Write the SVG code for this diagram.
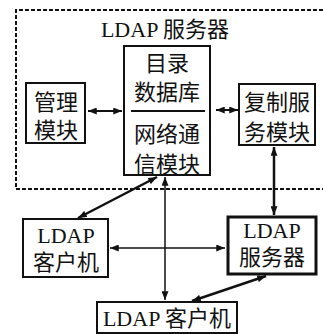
<svg xmlns="http://www.w3.org/2000/svg" width="323" height="334" viewBox="0 0 323 334">
<style>
text{font-family:"Liberation Serif","Noto Sans CJK SC",serif;font-size:22px;fill:#111;text-anchor:middle}
.box{fill:#fff;stroke:#111;stroke-width:2}
.thick{stroke-width:3}
.con{stroke:#111;fill:none}
</style>
<defs>
<marker id="ah" viewBox="0 0 10 8" refX="10" refY="4" markerWidth="9" markerHeight="7" markerUnits="userSpaceOnUse" orient="auto-start-reverse">
<path d="M0,0 L10,4 L0,8 Z" fill="#111"/>
</marker>
</defs>
<path d="M323,10 H16 V189 H323" fill="none" stroke="#111" stroke-width="2" stroke-dasharray="4,2"/>
<text x="165" y="37">LDAP 服务器</text>
<g id="conn">
<line class="con" x1="88" y1="111" x2="122" y2="111" stroke-width="2" marker-start="url(#ah)" marker-end="url(#ah)"/>
<line class="con" x1="216" y1="110" x2="238" y2="110" stroke-width="2" marker-start="url(#ah)" marker-end="url(#ah)"/>
<line class="con" x1="274" y1="147" x2="274" y2="215" stroke-width="2.5" marker-start="url(#ah)" marker-end="url(#ah)"/>
<line class="con" x1="157" y1="177" x2="78" y2="218" stroke-width="2.5" marker-start="url(#ah)" marker-end="url(#ah)"/>
<line class="con" x1="165" y1="177" x2="165" y2="300" stroke-width="1.5" marker-start="url(#ah)" marker-end="url(#ah)"/>
<line class="con" x1="110" y1="248" x2="225" y2="248" stroke-width="1.5" marker-start="url(#ah)" marker-end="url(#ah)"/>
<line class="con" x1="266" y1="276" x2="192" y2="301" stroke-width="2.5" marker-start="url(#ah)" marker-end="url(#ah)"/>
</g>
<g id="core">
<rect class="box" x="124" y="46" width="86" height="129"/>
<line x1="131" y1="111" x2="205" y2="111" stroke="#111" stroke-width="2"/>
<text x="167" y="71">目录</text>
<text x="167" y="100">数据库</text>
<text x="167" y="142">网络通</text>
<text x="167" y="172">信模块</text>
</g>
<g id="admin">
<rect class="box" x="26" y="83" width="59" height="60"/>
<text x="56" y="110">管理</text>
<text x="56" y="138">模块</text>
</g>
<g id="repl">
<rect class="box" x="239" y="84" width="76" height="61"/>
<text x="277" y="110">复制服</text>
<text x="277" y="140">务模块</text>
</g>
<g id="client1">
<rect class="box" x="23" y="219" width="85" height="58"/>
<text x="66" y="243">LDAP</text>
<text x="66" y="270">客户机</text>
</g>
<g id="server2">
<rect class="box thick" x="228" y="217" width="88" height="57"/>
<text x="272" y="238">LDAP</text>
<text x="272" y="265">服务器</text>
</g>
<g id="client2">
<rect class="box" x="97" y="302" width="140" height="31"/>
<text x="167" y="326">LDAP 客户机</text>
</g>
</svg>
